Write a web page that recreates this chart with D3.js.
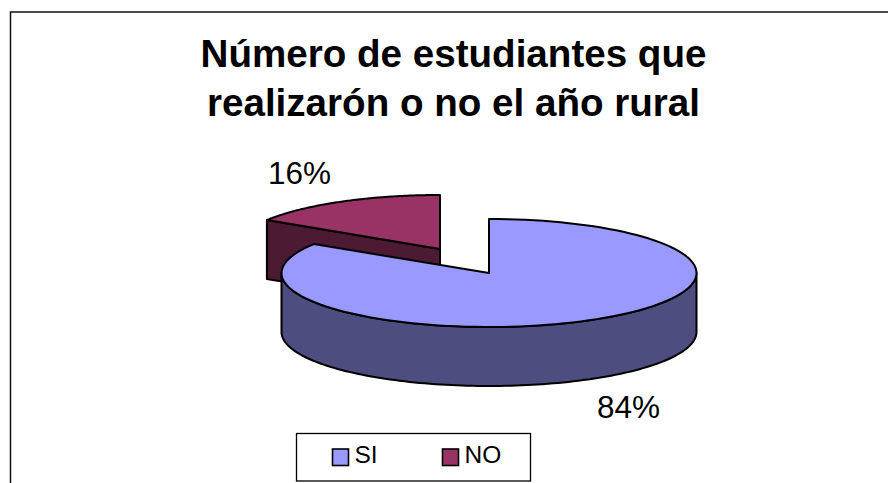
<!DOCTYPE html>
<html><head><meta charset="utf-8">
<script src="https://cdn.jsdelivr.net/npm/d3@7"></script>
<style>html,body{margin:0;background:#fff}svg{display:block}text{font-family:"Liberation Sans",Arial,sans-serif;fill:#000}</style>
</head><body><svg id="c" width="888" height="483"></svg>
<script>
const titleLines = ["Número de estudiantes que", "realizarón o no el año rural"];
const categories = ["SI", "NO"];
const values = [84, 16];
const labels = ["84%", "16%"];
const topColors = ["#9999FF", "#993366"];
const sideColors = ["#4D4D80", "#4D1A33"];

const svg = d3.select("#c");
// frame: open at the right and bottom, where the picture is cropped
svg.append("path").attr("d", "M10.5,483V12H888").attr("fill", "none").attr("stroke", "#111").attr("stroke-width", 1.5);

svg.selectAll("text.title").data(titleLines).join("text").attr("class", "title")
  .attr("x", 453.5).attr("y", (d, i) => 67 + i * 49).attr("text-anchor", "middle")
  .attr("font-size", 38.6).attr("font-weight", "bold").text(d => d);

const pie = d3.pie().sort(null)(values);
const radiiX = [207.5, 205], ry = 54, depth = 59;
const centers = [[489, 273], [440, 249]];
const line = d3.line();
const pt = (i, a, dy = 0) => [
  centers[i][0] + d3.scaleLinear().domain([0, 1]).range([0, radiiX[i]])(Math.sin(a)),
  centers[i][1] + d3.scaleLinear().domain([0, 1]).range([0, -ry])(Math.cos(a)) + dy];
const arcPts = (i, a0, a1, dy = 0) => d3.range(0, 121).map(k => pt(i, a0 + (a1 - a0) * k / 120, dy));

const g = svg.append("g").attr("stroke", "#000").attr("stroke-width", 2).attr("stroke-linejoin", "round");
function slice(i) {
  const c = centers[i], s = pie[i];
  if (i === 1) { // cut face of the exploded slice, facing the viewer
    const p = pt(i, s.startAngle);
    g.append("path").attr("fill", sideColors[i])
      .attr("d", line([c, p, [p[0], p[1] + depth], [c[0], c[1] + depth]]) + "Z");
  } else { // outer wall, front half only
    const a = arcPts(i, Math.PI / 2, 3 * Math.PI / 2);
    const b = arcPts(i, 3 * Math.PI / 2, Math.PI / 2, depth);
    g.append("path").attr("fill", sideColors[i]).attr("d", line(a.concat(b)) + "Z");
  }
  g.append("path").attr("fill", topColors[i])
    .attr("d", line([c].concat(arcPts(i, s.startAngle, s.endAngle))) + "Z");
}
slice(1); slice(0);

const labelPos = [[628.5, 418], [299.5, 184]];
svg.selectAll("text.lab").data(labels).join("text").attr("class", "lab")
  .attr("x", (d, i) => labelPos[i][0]).attr("y", (d, i) => labelPos[i][1])
  .attr("text-anchor", "middle").attr("font-size", 31.5).text(d => d);

// legend
svg.append("rect").attr("x", 296.5).attr("y", 433.5).attr("width", 234).attr("height", 47.5)
  .attr("fill", "#fff").attr("stroke", "#000").attr("stroke-width", 1.3);
const legX = [332, 442];
categories.forEach((d, i) => {
  svg.append("rect").attr("x", legX[i] + .5).attr("y", 449).attr("width", 16).attr("height", 16.5)
    .attr("fill", topColors[i]).attr("stroke", "#000").attr("stroke-width", 1.6);
  svg.append("text").attr("x", legX[i] + 22.5).attr("y", 463).attr("font-size", 24.5).text(d);
});
</script></body></html>
